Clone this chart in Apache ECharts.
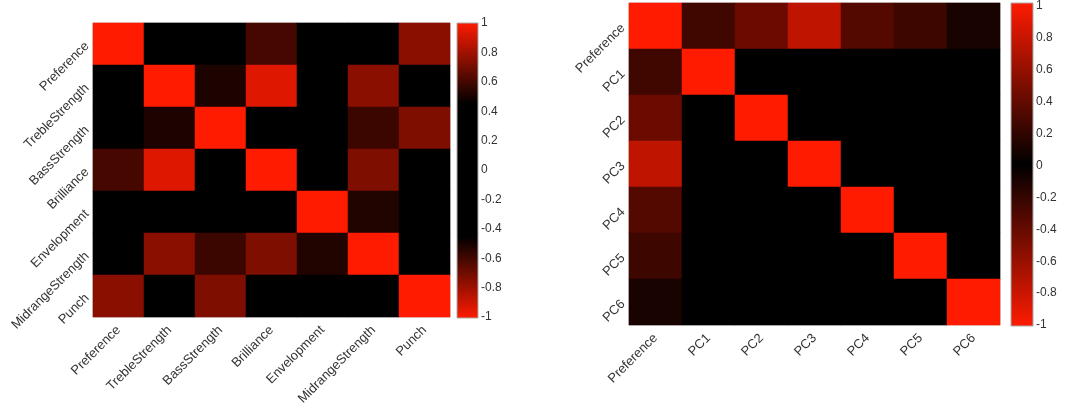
<!DOCTYPE html>
<html>
<head>
<meta charset="utf-8">
<script src="https://cdn.jsdelivr.net/npm/echarts@6/dist/echarts.min.js"></script>
<style>html,body{margin:0;padding:0;background:#fff}#c{width:1080px;height:410px}</style>
</head>
<body>
<div id="c"></div>
<script>
// ---- data ----
const leftLabels = ['Preference','TrebleStrength','BassStrength','Brilliance','Envelopment','MidrangeStrength','Punch'];
const leftMatrix = [
  [1.00, 0.12, 0.05, 0.60, 0.18, 0.22, 0.75],
  [0.12, 1.00, 0.51, 0.93, 0.20, 0.75, 0.15],
  [0.05, 0.51, 1.00, 0.10, 0.25, 0.58, 0.72],
  [0.60, 0.93, 0.10, 1.00, 0.15, 0.72, 0.08],
  [0.18, 0.20, 0.25, 0.15, 1.00, 0.52, 0.12],
  [0.22, 0.75, 0.58, 0.72, 0.52, 1.00, 0.20],
  [0.75, 0.15, 0.72, 0.08, 0.12, 0.20, 1.00]
];
const rightLabels = ['Preference','PC1','PC2','PC3','PC4','PC5','PC6'];
const rightMatrix = [
  [1.00, 0.25, 0.42, 0.75, 0.33, 0.24, 0.10],
  [0.25, 1.00, 0.00, 0.00, 0.00, 0.00, 0.00],
  [0.42, 0.00, 1.00, 0.00, 0.00, 0.00, 0.00],
  [0.75, 0.00, 0.00, 1.00, 0.00, 0.00, 0.00],
  [0.33, 0.00, 0.00, 0.00, 1.00, 0.00, 0.00],
  [0.24, 0.00, 0.00, 0.00, 0.00, 1.00, 0.00],
  [0.10, 0.00, 0.00, 0.00, 0.00, 0.00, 1.00]
];
const colorbarMin = -1, colorbarMax = 1, colorbarStep = 0.2;

// ---- build ----
function toCells(m){
  const out = [];
  m.forEach((row, i) => row.forEach((v, j) => out.push([j, i, v])));
  return out;
}
const RED = [254, 27, 0];
function rgb(f){ f = Math.max(0, Math.min(1, f)); return 'rgb(' + RED.map(c => Math.round(c*f)).join(',') + ')'; }
function stops(dead){
  const arr = [];
  for (let k = 0; k <= 80; k++) {
    const t = -1 + k/40;
    arr.push(rgb((Math.abs(t) - dead) / (1 - dead)));
  }
  return arr;
}
function gradient(dead){
  const s = stops(dead);
  // top of bar = max (+1), bottom = min (-1)
  return new echarts.graphic.LinearGradient(0, 0, 0, 1,
    s.map((c, k) => ({offset: 1 - k/(s.length-1), color: c})).reverse());
}
const font = "'Liberation Sans', Arial, sans-serif";
const txt = '#333';

const L = {left: 93, top: 23, width: 357, height: 294};
const LC = {left: 457, top: 23, width: 20, height: 294};
const R = {left: 629, top: 3, width: 371, height: 322};
const RC = {left: 1011, top: 3, width: 21, height: 322};

function catX(idx, labels){
  return {type:'category', gridIndex: idx, data: labels, axisLine:{show:false}, axisTick:{show:false},
    splitArea:{show:false}, axisLabel:{rotate:45, fontSize:13, color:txt, fontFamily:font, margin:11, interval:0}};
}
function catY(idx, labels){
  return {type:'category', gridIndex: idx, data: labels, inverse: true, axisLine:{show:false}, axisTick:{show:false},
    splitArea:{show:false}, axisLabel:{rotate:45, fontSize:13, color:txt, fontFamily:font, margin:6, interval:0}};
}
function barGrid(g){ return {left: g.left, top: g.top, width: g.width, height: g.height, show:false}; }
function barRect(g, dead){
  return {type:'rect', left: g.left - 0.5, top: g.top - 0.5, z: 10,
    shape:{x:0, y:0, width: g.width + 1, height: g.height + 1},
    style:{fill: gradient(dead), stroke:'#aaa', lineWidth:1}};
}

const option = {
  backgroundColor: '#fff',
  animation: false,
  grid: [
    Object.assign({show:true, borderColor:'#bbb', borderWidth:1}, L),
    barGrid(LC),
    Object.assign({show:true, borderColor:'#bbb', borderWidth:1}, R),
    barGrid(RC)
  ],
  xAxis: [
    catX(0, leftLabels),
    {type:'value', gridIndex:1, show:false, min:0, max:1},
    catX(2, rightLabels),
    {type:'value', gridIndex:3, show:false, min:0, max:1}
  ],
  yAxis: [
    catY(0, leftLabels),
    {type:'value', gridIndex:1, position:'right', min:colorbarMin, max:colorbarMax, interval:colorbarStep,
      axisLine:{show:false}, axisTick:{show:false}, splitLine:{show:false},
      axisLabel:{fontSize:12, color:txt, fontFamily:font, margin:4}},
    catY(2, rightLabels),
    {type:'value', gridIndex:3, position:'right', min:colorbarMin, max:colorbarMax, interval:colorbarStep,
      axisLine:{show:false}, axisTick:{show:false}, splitLine:{show:false},
      axisLabel:{fontSize:12, color:txt, fontFamily:font, margin:4}}
  ],
  visualMap: [
    {type:'continuous', show:false, seriesIndex:0, min:colorbarMin, max:colorbarMax, inRange:{color: stops(0.45)}},
    {type:'continuous', show:false, seriesIndex:1, min:colorbarMin, max:colorbarMax, inRange:{color: stops(0.0)}}
  ],
  graphic: [barRect(LC, 0.45), barRect(RC, 0.0)],
  series: [
    {type:'heatmap', xAxisIndex:0, yAxisIndex:0, data: toCells(leftMatrix), itemStyle:{borderWidth:0}},
    {type:'heatmap', xAxisIndex:2, yAxisIndex:2, data: toCells(rightMatrix), itemStyle:{borderWidth:0}}
  ]
};
const chart = echarts.init(document.getElementById('c'), null, {renderer:'canvas'});
chart.setOption(option);
</script>
</body>
</html>
